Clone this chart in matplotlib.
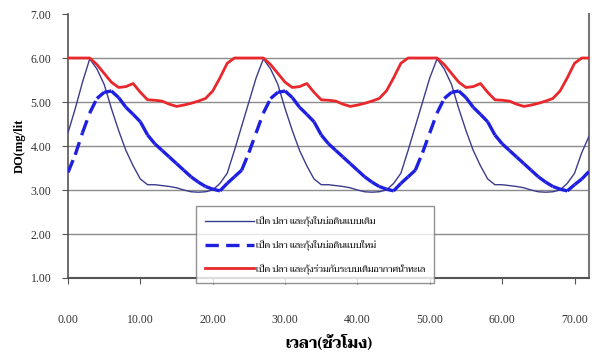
import matplotlib
matplotlib.use("Agg")
import numpy as np
import matplotlib.pyplot as plt
from matplotlib.lines import Line2D

# hours 0..72
hours = list(range(0, 73))

# DO (mg/lit) - thin line
do_thin = [4.30, 4.85, 5.45, 5.98, 5.75, 5.40, 4.85, 4.35, 3.90, 3.55, 3.25, 3.12, 3.12,
           3.10, 3.08, 3.05, 3.00, 2.96, 2.95, 2.96, 3.00, 3.15, 3.38, 3.90,
           4.45, 5.00, 5.55, 5.98, 5.75, 5.40, 4.85, 4.35, 3.90, 3.55, 3.25, 3.12, 3.12,
           3.10, 3.08, 3.05, 3.00, 2.96, 2.95, 2.96, 3.00, 3.15, 3.38, 3.90,
           4.45, 5.00, 5.55, 5.98, 5.75, 5.40, 4.85, 4.35, 3.90, 3.55, 3.25, 3.12, 3.12,
           3.10, 3.08, 3.05, 3.00, 2.96, 2.95, 2.96, 3.00, 3.15, 3.38, 3.85, 4.22]

# DO (mg/lit) - thick blue line
do_blue = [3.40, 3.80, 4.30, 4.75, 5.08, 5.22, 5.25, 5.10, 4.88, 4.72, 4.55, 4.25, 4.05,
           3.90, 3.75, 3.60, 3.45, 3.30, 3.18, 3.08, 3.02, 2.98, 3.15, 3.30,
           3.45, 3.85, 4.30, 4.75, 5.08, 5.22, 5.25, 5.10, 4.88, 4.72, 4.55, 4.25, 4.05,
           3.90, 3.75, 3.60, 3.45, 3.30, 3.18, 3.08, 3.02, 2.98, 3.15, 3.30,
           3.45, 3.85, 4.30, 4.75, 5.08, 5.22, 5.25, 5.10, 4.88, 4.72, 4.55, 4.25, 4.05,
           3.90, 3.75, 3.60, 3.45, 3.30, 3.18, 3.08, 3.02, 2.98, 3.12, 3.25, 3.42]

# DO (mg/lit) - red line
do_red = [6.00, 6.00, 6.00, 6.00, 5.85, 5.65, 5.45, 5.33, 5.35, 5.42, 5.22, 5.05, 5.04,
          5.02, 4.95, 4.90, 4.93, 4.97, 5.02, 5.08, 5.25, 5.55, 5.88, 6.00,
          6.00, 6.00, 6.00, 6.00, 5.85, 5.65, 5.45, 5.33, 5.35, 5.42, 5.22, 5.05, 5.04,
          5.02, 4.95, 4.90, 4.93, 4.97, 5.02, 5.08, 5.25, 5.55, 5.88, 6.00,
          6.00, 6.00, 6.00, 6.00, 5.85, 5.65, 5.45, 5.33, 5.35, 5.42, 5.22, 5.05, 5.04,
          5.02, 4.95, 4.90, 4.93, 4.97, 5.02, 5.08, 5.25, 5.55, 5.88, 6.00, 6.00]

labels = ["เป็ด ปลา และกุ้งในบ่อดินแบบเดิม",
          "เป็ด ปลา และกุ้งในบ่อดินแบบใหม่",
          "เป็ด ปลา และกุ้งร่วมกับระบบเติมอากาศน้ำทะเล"]

x_ticks = [0, 10, 20, 30, 40, 50, 60, 70]
y_ticks = [1, 2, 3, 4, 5, 6, 7]

SERIF = ["Liberation Serif", "Taviraj"]
THAI = ["Taviraj", "Liberation Serif"]

fig = plt.figure(figsize=(5.99, 3.60), dpi=100)
ax = fig.add_axes([68 / 599, 1 - 278 / 360, (589 - 68) / 599, (278 - 14) / 360])

h = np.array(hours)
b = np.array(do_blue)

ax.plot(h, do_thin, color="#3c3c8c", lw=1.0, zorder=3)

# thick blue: dashed on the rising parts, solid on the falling parts
rising = np.diff(b) > 0
for i in range(len(h) - 1):
    ls = (0, (4, 2.2)) if rising[i] else "-"
    ax.plot(h[i:i + 2], b[i:i + 2], color="#1f1fe0", lw=2.4, ls=ls,
            solid_capstyle="butt", dash_capstyle="butt", zorder=4)

ax.plot(h, do_red, color="#e8282c", lw=2.0, zorder=5)

ax.set_xlim(0, 72)
ax.set_ylim(1, 7)
ax.set_xticks(x_ticks)
ax.set_yticks(y_ticks)
ax.set_xticklabels(["%.2f" % v for v in x_ticks], family=SERIF, fontsize=8.5, color="#333333")
ax.set_yticklabels(["%.2f" % v for v in y_ticks], family=SERIF, fontsize=8.5, color="#333333")
ax.tick_params(axis="x", pad=22, length=4, color="#555555", direction="out")
ax.tick_params(axis="y", pad=8, length=4, color="#555555", direction="out")

for yv in [2, 3, 4, 5, 6]:
    ax.axhline(yv, color="#8c8c8c", lw=1.0, zorder=1)

ax.spines["top"].set_visible(False)
ax.spines["left"].set_color("#555555")
ax.spines["bottom"].set_color("#555555")
ax.spines["right"].set_color("#777777")
ax.spines["left"].set_linewidth(1.2)
ax.spines["bottom"].set_linewidth(1.5)
ax.spines["right"].set_linewidth(1.5)

ax.set_ylabel("DO(mg/lit", family=SERIF, fontsize=9, fontweight="bold", labelpad=3)
ax.set_xlabel("เวลา(ชั่วโมง)", family=THAI, fontsize=11, fontweight="bold", labelpad=6)

handles = [Line2D([], [], color="#3c3c8c", lw=1.0),
           Line2D([], [], color="#1f1fe0", lw=2.4, ls=(0, (4, 2.2))),
           Line2D([], [], color="#e8282c", lw=2.0)]
leg = ax.legend(handles, labels, loc="lower left", bbox_to_anchor=(0.245, -0.02),
                prop={"family": THAI, "size": 6.5}, frameon=True, fancybox=False,
                handlelength=5.5, handletextpad=0.2, labelspacing=1.45,
                borderpad=1.0, borderaxespad=0)
leg.get_frame().set_edgecolor("#777777")
leg.get_frame().set_linewidth(1.0)
leg.set_zorder(10)

fig.savefig("out.png", dpi=100)
